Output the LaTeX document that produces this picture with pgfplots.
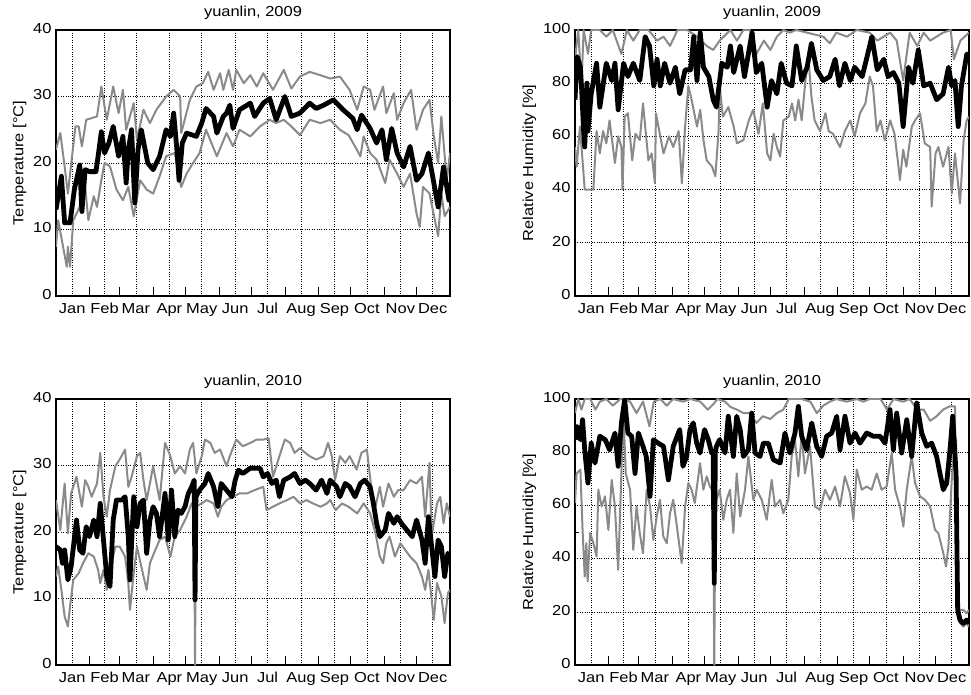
\documentclass[border=0pt]{standalone}
\usepackage{fontspec}
\setmainfont{Liberation Sans}[FakeStretch=1.14]
\usepackage{pgfplots}
\pgfplotsset{compat=1.18}
\definecolor{lg}{RGB}{138,138,138}
\pgfplotsset{
  myax/.style={
    scale only axis, width=394bp, height=266bp,
    xmin=0, xmax=365,
    xtick={15,45,74,105,135,166,196,227,258,288,319,349},
    xticklabels={Jan,Feb,Mar,Apr,May,Jun,Jul,Aug,Sep,Oct,Nov,Dec},
    major tick length=0pt,
    extra x ticks={31,59,90,120,151,181,212,243,273,304,334},
    extra x tick labels={},
    extra x tick style={xmajorgrids=false, major tick length=9bp, xtick pos=bottom},
    xtick pos=bottom, ytick pos=left,
    tick align=inside,
    tick style={black, line width=0.6pt},
    grid=major, grid style={dotted, black, line width=0.6pt},
    axis line style={line width=1.2pt},
    /pgf/number format/assume math mode=true,
    typeset ticklabels with strut,
    ticklabel style={font=\fontsize{14.5}{17}\selectfont},
    label style={font=\fontsize{14.5}{17}\selectfont},
    title style={font=\fontsize{14.5}{17}\selectfont, yshift=1bp},
    xticklabel style={yshift=-2bp, inner xsep=0pt},
    yticklabel style={xshift=-1bp},
  },
  tax/.style={myax, ymin=0, ymax=40, ytick={0,10,20,30,40}, ylabel={Temperature [°C]}},
  hax/.style={myax, ymin=0, ymax=100, ytick={0,20,40,60,80,100}, ylabel={Relative Humidity [\%]},
    extra y ticks={50}, extra y tick labels={}, extra y tick style={ymajorgrids=false, major tick length=4bp}},
  mx/.style={lg, line width=2bp, line join=round},
  mn/.style={black, line width=4.8bp, line join=round},
}
\begin{document}
\begin{tikzpicture}
\useasboundingbox (0,0) rectangle (971bp,695bp);
% ---------------- top left: temperature 2009
\begin{axis}[tax, at={(56bp,399bp)}, anchor=south west, title={yuanlin, 2009}]
\addplot[mx] coordinates {(0,22) (4,24.5) (8,19.5) (11,15.4) (18,25.5) (21,25.5) (24,22.5) (28,26.5) (38,27) (42,31.5) (47,26.5) (53,31.5) (58,27.5) (62,31) (65,25) (72,29) (75,23.5) (81,28) (87,26) (93,28) (102,30) (109,31) (115,30) (116,24.5) (124,29.5) (130,31.5) (136,32) (141,33.7) (146,31) (152,33.5) (155,31) (160,34) (164,31) (167,34) (174,32) (180,33.2) (186,31.5) (192,33.5) (201,31) (211,34) (218,31.2) (226,33) (235,33.7) (245,33.2) (254,32.7) (263,33) (272,31) (279,28) (285,31.5) (291,31) (295,28) (303,31.5) (306,27.5) (313,30.5) (316,26.5) (322,29) (329,31) (334,25) (340,28) (346,29.5) (350,24) (354,20) (357,27) (362,17.4) (365,21.5)};
\addplot[mx] coordinates {(0,7.4) (2,11.4) (7,7) (10,4.4) (11,7.4) (13,4.4) (16,11.4) (22,13.4) (27,16.4) (30,11.4) (35,15) (38,13.4) (42,17.4) (45,20) (50,19.5) (56,16) (62,14.4) (67,16.4) (72,12) (78,17.4) (84,16) (90,15.4) (96,18) (102,21) (110,21.5) (116,16.4) (121,18.4) (127,20) (133,21.5) (139,25) (149,21) (158,24.5) (164,22.5) (170,25) (180,24) (189,25.5) (198,26.5) (204,26) (211,26.5) (218,25.5) (226,24.2) (235,26.5) (245,26) (254,26.5) (263,25) (271,24.2) (277,22.5) (282,21) (285,24) (291,21.5) (297,20.5) (305,17) (309,20.5) (316,18.4) (322,16.4) (328,18.4) (334,12.4) (337,10.4) (340,16.4) (346,15.4) (351,11.4) (354,9) (357,15.4) (360,12) (365,13.4)};
\addplot[mn] coordinates {(0,13) (3,16) (5,18) (8,11) (13,11) (17,16) (22,19.7) (24,12.7) (27,19) (31,18.7) (37,18.7) (39,21) (42,24.7) (45,21.5) (49,23) (53,25.5) (58,21) (62,24) (65,17) (67,22) (70,25) (73,14) (76,22) (79,25) (85,20) (90,19) (96,21) (102,25) (106,24) (109,27.5) (112,22) (114,17.4) (117,23) (121,24.5) (130,24) (135,26) (139,28.2) (146,27) (149,24.5) (155,27) (158,27.5) (161,28.7) (164,25.2) (170,28) (180,29) (184,27) (192,29) (198,29.7) (204,26.5) (212,30) (218,27) (226,27.5) (235,29) (241,28.2) (248,28.7) (257,29.5) (266,28) (275,26.7) (279,25) (283,27.2) (291,25.2) (297,23) (302,25) (306,20.5) (311,25.2) (316,21.5) (322,19.4) (328,22.5) (334,17.4) (339,18.4) (345,21.5) (350,17) (354,13.4) (359,19.4) (364,14.4) (365,17)};
\end{axis}
% ---------------- top right: humidity 2009
\begin{axis}[hax, at={(575bp,399bp)}, anchor=south west, title={yuanlin, 2009}]
\addplot[mx] coordinates {(0,89) (3,100) (6,79) (8,100) (12,91) (15,100) (23,100) (29,97.5) (35,100) (43,91) (48,100) (54,96) (60,100) (68,100) (76,96) (82,97.5) (88,94) (95,100) (104,100) (113,97.5) (122,94) (128,92.5) (134,96) (144,100) (150,96) (156,100) (162,100) (168,91) (175,96) (181,92.5) (187,97.5) (193,100) (199,99) (205,100) (230,97.5) (236,95) (242,99) (252,97.5) (261,100) (273,99) (280,96) (292,99) (298,96) (304,81) (310,99) (317,94) (323,99) (329,96) (341,99) (348,100) (351,89) (357,96) (365,99)};
\addplot[mx] coordinates {(0,56) (1.5,48.6) (4.6,63.7) (9,40) (14,40) (17,40) (20,62) (23,53.6) (26,62) (29,57.4) (32,66) (37,50) (40,60) (43,56) (44,40) (46,67.4) (49,68.7) (53,51) (56,61) (60,58.6) (63,72.4) (68,51) (71,53.6) (74,42.4) (75,68.7) (79,60) (82,53.6) (87,60) (91,56) (96,62) (99,42.4) (102,63.7) (105,79) (108,73.8) (113,63.7) (116,70) (119,58.6) (122,51) (127,48.6) (130,45) (133,62) (134,79) (137,67.4) (142,71) (147,63.7) (150,57.4) (156,58.6) (161,66) (165,70) (170,61) (174,72.4) (178,53.6) (181,51) (184,61) (187,56) (190,52.4) (193,66) (198,67.4) (201,72.4) (204,66) (207,73.8) (210,66) (213,79) (216,91) (219,75) (222,66) (227,62) (232,68.7) (235,62) (239,61) (245.5,56) (250,62) (255,66) (259,60) (264,68.7) (269,72.4) (273,82.5) (276,79) (279.5,62) (283,66) (287,58.6) (292,66) (296,61) (299,51) (301,43.6) (304,55) (307,48.6) (312,63.7) (315,66) (319.6,68.7) (324,57.4) (329,56) (330.4,33.6) (334,53.6) (336.6,56) (341,48.6) (346,56) (349,38.6) (352,53.6) (356.7,34.8) (360,58.6) (362.8,66) (365,67.4)};
\addplot[mn] coordinates {(0,73.8) (2,90) (5,86) (6,79) (8,62) (9,56) (11,80) (12,62) (15,76) (20,87.5) (23,71) (29,87.5) (34,81) (37,87.5) (40,70) (45,87.5) (49,82.5) (54,87.5) (60,81) (65,97.5) (69,94) (73,79) (76,89) (79,79) (83,87.5) (88,80) (93,86) (97,76) (102,85) (107,85) (110,97.5) (113,81) (116,99) (119,86) (124,82.5) (128,73.8) (131,71) (136,87.5) (141,86) (144,94) (147,84) (153,94) (157,82.5) (164,99) (168,84) (173,87.5) (178,71) (182,81) (187,76) (191,87.5) (196,80) (201,79) (205,94) (210,81) (215,86) (219,95) (224,85) (230,81) (236,82.5) (241,89) (245,79) (250,87.5) (255,81) (259,86) (266,82.5) (270,89) (275,97.5) (280,85) (286,89) (290,82.5) (295,84) (300,80) (304,63.7) (309,86) (313,80) (318,92.5) (323,79) (329,80) (335,73.8) (341,76) (346,86) (349,79) (352,81) (355,63.7) (358,79) (363,91) (365,89)};
\end{axis}
% ---------------- bottom left: temperature 2010
\begin{axis}[tax, at={(56bp,30bp)}, anchor=south west, title={yuanlin, 2010}]
\addplot[mx] coordinates {(0,24.8) (4,20.3) (8,27.3) (11,19.8) (14,25.8) (19,28.3) (24,23.8) (27,27.8) (30,26.8) (33,25.3) (38,27.3) (41,31.9) (44,25.3) (47,22.3) (50,26.3) (55,29.9) (59,30.9) (64,32.4) (67,26.8) (70,28.3) (75,31.4) (78,31.9) (81,27.8) (84,24.8) (87,27.3) (90,29.9) (96,24.8) (101,33.4) (106,31.4) (110,28.8) (115,29.9) (119.5,28.8) (124,32.4) (127,33.4) (130,28.8) (135,31.4) (138,33.9) (143,33.4) (147,31.9) (152,32.4) (158,29.9) (161,31.4) (167,33.9) (173,32.9) (180,33.4) (186,33.9) (192,33.9) (197,34.1) (201,28.3) (206,30.9) (212,33.9) (217,33.4) (221,31.9) (226,32.6) (231,31.9) (235,31.4) (241,30.9) (248,31.4) (252,33.4) (255.5,31.4) (258.5,27.8) (263,31.4) (268,30.4) (272,31.4) (278.5,29.4) (283,31.9) (288,32.4) (292,26.8) (296,23.8) (300,26.8) (303,23.8) (308,27.3) (313,25.3) (317,26.3) (322,26.3) (328,27.8) (334,27.3) (339,28.3) (342,22.3) (346,30.4) (348,19.3) (353,24.3) (356,25.3) (359,21.3) (362,24.3) (365,22.3)};
\addplot[mx] coordinates {(0,13.3) (2,14.8) (5,11.3) (8,7.3) (11,5.8) (13,8.8) (16,12.8) (21,13.8) (25,15.3) (30,16.8) (35,16.3) (39,14.3) (41,12.3) (44,14.3) (47,11.3) (50,14.3) (55,17.8) (59,17.8) (64,16.3) (67,12.3) (68.5,8.3) (72,13.8) (75,17.8) (79,14.8) (84,11.3) (87,15.3) (92,17.3) (96,18.8) (101,19.3) (106,16.3) (110,19.3) (115,20.3) (121,22.3) (125.7,24.3) (128,23.8) (128.8,0) (129.6,23.8) (135,24.3) (139.5,24.8) (146,24.3) (150,22.3) (153,23.8) (158,24.8) (164,25.3) (170,25.8) (177,25.8) (184,26.3) (192,26.8) (195,23.3) (201,23.8) (207,24.3) (214,24.8) (220,25.3) (226,24.3) (232,24.8) (238,24.3) (245,23.8) (251,24.3) (254,24.8) (259,23.3) (265,24.3) (271,23.8) (279,22.8) (285,24.3) (291,22.8) (296,19.8) (300,16.3) (303,15.3) (306,18.3) (309,19.3) (314,16.3) (319,18.3) (323.5,17.3) (328,16.3) (334,15.3) (339,13.3) (342,11.3) (345,14.3) (350,6.8) (353,12.3) (357,10.3) (360,6.3) (363,10.8) (365,11.3)};
\addplot[mn] coordinates {(0,17.8) (4,17.3) (6,15.3) (8,17.3) (11,12.8) (14,14.8) (19,21.8) (22,17.3) (25,16.8) (28,20.8) (31,19.3) (35,21.8) (38,19.3) (41,24.3) (44,18.8) (47,13.3) (50,11.8) (53,21.8) (56,24.8) (61,24.8) (64,25.3) (67,19.3) (68.5,12.8) (72,25.3) (75,20.8) (78,24.3) (81,24.8) (84,16.8) (87,21.8) (90,23.8) (93,22.8) (96,19.3) (101,25.8) (104,18.8) (107,26.3) (110,19.3) (113,23.3) (116,22.8) (119.5,23.8) (122.6,25.8) (125.7,26.8) (128,27.8) (128.8,9.8) (129.6,25.3) (133,26.3) (138,27.3) (141,28.8) (146,26.8) (150,23.8) (153,27.3) (158,26.3) (163,25.3) (166,27.8) (169,29.3) (173,28.8) (180,29.6) (189,29.6) (192,28.3) (196,28.8) (200,27.3) (204,27.8) (207,25.3) (211,27.8) (217,28.3) (221,28.8) (226,27.3) (231,27.8) (235,27.3) (241,26.3) (246,27.8) (251,25.8) (254,27.8) (260,26.8) (263,25.3) (268,27.3) (272,26.8) (277,25.3) (282,27.3) (286,27.8) (291,26.8) (294,24.3) (297,21.3) (300,19.3) (305,20.3) (308,22.8) (313,21.3) (316,22.3) (320,21.3) (325,20.3) (330,19.3) (334,21.8) (339,18.8) (342,15.3) (345,22.3) (348,17.8) (351,13.3) (354,18.8) (357,17.8) (360,13.3) (363,16.8) (365,16.3)};
\end{axis}
% ---------------- bottom right: humidity 2010
\begin{axis}[hax, at={(575bp,30bp)}, anchor=south west, title={yuanlin, 2010}]
\addplot[mx] coordinates {(0,94.7) (3,100) (6,96) (9,100) (14,100) (19,96) (23,99) (29,100) (35,97.5) (42,100) (46,100) (51,99) (57,94.7) (63,99) (69,89.7) (73,99) (79,100) (85,97.5) (91,100) (100,99) (107,100) (116,99) (123,96) (128,98) (132,100) (139,99) (144,97) (150,96) (156,94.7) (162,94.7) (168,91) (174,93.5) (181,92.5) (187,94.7) (193,96) (198,100) (204,100) (210,100) (218,99) (224,94.7) (230,97.5) (236,99) (242,100) (252,99) (261,100) (267,99) (273,100) (283,100) (289,96) (295,100) (304,99) (310,100) (317,96) (323,96) (329,91.8) (335,93.5) (341,96) (347,97.2) (352,97.2) (353.6,22) (356.7,20.7) (359.8,20.7) (362.8,19.4) (365,20.7)};
\addplot[mx] coordinates {(0,60.9) (1.5,72) (5,73.4) (7,50.8) (9,33.2) (10.5,45.8) (11.7,31.4) (14,49.6) (17,45.8) (20,40.8) (21.6,65.9) (24.7,59.6) (27.8,63.4) (30.9,50.8) (34,69.6) (37,59.6) (40,35.8) (42.3,63.4) (44.8,96) (47,72) (51,65.9) (54,43.3) (57,59.6) (60,49.6) (63,42) (66.4,65.9) (69.5,59.6) (72.6,47) (75.7,55.8) (78.7,62.1) (81.8,48.3) (85,45.8) (88,57) (91,62.1) (94,53.3) (98.8,38.3) (102,59.6) (105,68.4) (108,65.9) (111,60.9) (115.8,75.9) (118.9,65.9) (122,70.9) (125,67.1) (128,65) (129,0) (130,60.9) (134,65.9) (137.4,54.6) (140.5,62.1) (143.6,65.9) (146.7,49.6) (149.8,72) (153,55.8) (157.5,65.9) (160.6,78.4) (165.2,62.1) (168.3,65.9) (173,62.1) (177.6,54.6) (182.2,69.6) (185.3,59.6) (190,62.1) (193,57) (197.6,62.1) (200.7,78.4) (203.8,84.7) (206.9,70.9) (210,87.2) (213,72) (217.7,82.2) (222.3,59.6) (227,58.3) (231.6,65.9) (236.2,62.1) (240.9,67.1) (245.5,59.6) (250,70.9) (254.8,64.6) (257.9,54.6) (261,73.4) (265.6,65.9) (270.2,67.1) (274.8,65.9) (279.5,72) (284,65.9) (288.7,67.1) (293.4,79.7) (296.5,65.9) (301,59.6) (304.2,52) (307.3,65.9) (311.9,78.4) (315,68.4) (319.6,63.4) (324.2,62.1) (328.9,59.6) (333.5,50.8) (336.6,49.6) (341.2,42) (343.7,37) (345.9,44.5) (349,69.6) (351,80) (353,85) (354.5,18.2) (356.7,15.7) (359.8,14.4) (362.8,15.7) (365,14.4)};
\addplot[mn] coordinates {(0,84.7) (2,89.7) (5,84.7) (7,92.2) (9,80.9) (12,68.4) (15,83.4) (18.5,75.9) (23,86) (28,84.7) (32,80.9) (37,87.2) (40,74.7) (43,91) (46,99.7) (49,87.2) (52.5,86) (55.6,72) (58.7,87.2) (63,82.2) (66,78.4) (69.5,63.4) (72.6,84.7) (77,83.4) (82,82.2) (86.5,69.6) (91,82.2) (97,88.5) (100,74.7) (103.4,78.4) (106.5,88.5) (109.6,91) (112.7,83.4) (115.8,79.7) (120,88.5) (123.5,84.7) (126.6,79.7) (128,80) (129,30.7) (130,80) (131,82.2) (134,84.7) (139,79.7) (142,93.5) (146.7,78.4) (149.8,93.5) (153,88.5) (156,78.4) (160.6,80.9) (163.7,94.7) (166.8,79.7) (171.4,78.4) (174.5,83.4) (179,83.4) (183.7,77.2) (190,75.9) (194.5,87.2) (199,79.7) (203.8,87.2) (206.9,97.2) (210,86) (214.6,80.9) (219.3,91) (223.9,82.2) (228.5,78.4) (233.1,86) (237.8,87.2) (242.4,93.5) (245.5,80.9) (250.1,93.5) (254.8,83.4) (259.4,87.2) (264,83.4) (270.2,87.2) (276.4,86) (282.6,86) (287.2,83.4) (291.8,96) (294.9,80.9) (298,94.7) (302.6,79.7) (307.3,92.2) (311.9,78.4) (316.5,98.5) (321.2,87.2) (325.8,82.2) (330.4,83.4) (335,78.4) (338.1,72) (341.2,65.9) (344.3,68.4) (347.4,80.9) (349.9,93.5) (353,72) (354.5,20.7) (356.7,16.9) (359.8,15.7) (362.8,16.9) (365,15.7)};
\end{axis}
\end{tikzpicture}
\end{document}
